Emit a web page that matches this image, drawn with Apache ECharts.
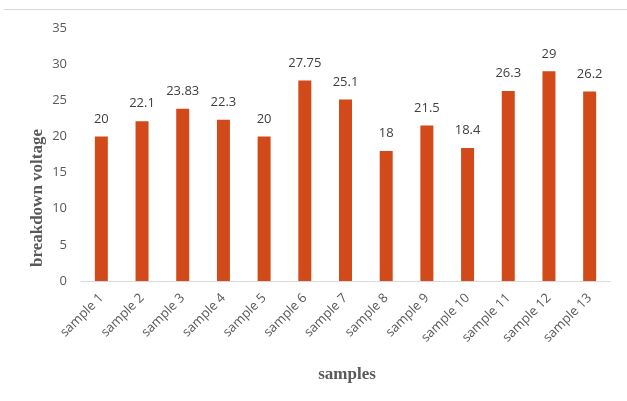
<!DOCTYPE html>
<html>
<head>
<meta charset="utf-8">
<script src="https://cdn.jsdelivr.net/npm/echarts@6/dist/echarts.min.js"></script>
<style>
  html, body { margin: 0; padding: 0; background: #fff; }
  #chart { width: 627px; height: 401px; }
</style>
</head>
<body>
<div id="chart"></div>
<script>
// Breakdown voltage per sample
const categories = ['sample 1', 'sample 2', 'sample 3', 'sample 4', 'sample 5', 'sample 6', 'sample 7',
  'sample 8', 'sample 9', 'sample 10', 'sample 11', 'sample 12', 'sample 13'];
const voltages = [20, 22.1, 23.83, 22.3, 20, 27.75, 25.1, 18, 21.5, 18.4, 26.3, 29, 26.2];
const yTicks = [0, 5, 10, 15, 20, 25, 30, 35];

const chart = echarts.init(document.getElementById('chart'), null, { renderer: 'canvas' });

const labelFont = '"Open Sans", "Liberation Sans", sans-serif';
const titleFont = '"Liberation Serif", "DejaVu Serif", serif';

chart.setOption({
  animation: false,
  grid: { left: 81, right: 17, top: 28, bottom: 120 },
  xAxis: {
    type: 'category',
    data: categories,
    axisLine: { lineStyle: { color: '#d9d9d9', width: 1 } },
    axisTick: { show: false },
    axisLabel: {
      rotate: 45,
      interval: 0,
      color: '#595959',
      fontFamily: labelFont,
      fontSize: 13,
      margin: 15
    }
  },
  yAxis: {
    type: 'value',
    min: yTicks[0],
    max: yTicks[yTicks.length - 1],
    interval: 5,
    splitLine: { show: false },
    axisLine: { show: false },
    axisTick: { show: false },
    axisLabel: {
      color: '#595959',
      fontFamily: labelFont,
      fontSize: 13,
      margin: 14
    }
  },
  series: [{
    type: 'bar',
    data: voltages,
    barWidth: 13,
    itemStyle: { color: '#D24A19' },
    label: {
      show: true,
      position: 'top',
      distance: 11,
      color: '#404040',
      fontFamily: labelFont,
      fontSize: 13
    }
  }],
  graphic: [
    {
      type: 'line',
      shape: { x1: 4, y1: 9.5, x2: 627, y2: 9.5 },
      style: { stroke: '#d9d9d9', lineWidth: 1 }
    },
    {
      type: 'text',
      x: 37.5,
      y: 198,
      rotation: Math.PI / 2,
      style: {
        text: 'breakdown voltage',
        fill: '#595959',
        font: 'bold 17px ' + titleFont,
        textAlign: 'center',
        textVerticalAlign: 'middle'
      }
    },
    {
      type: 'text',
      x: 347,
      y: 375,
      style: {
        text: 'samples',
        fill: '#595959',
        font: 'bold 17px ' + titleFont,
        textAlign: 'center',
        textVerticalAlign: 'middle'
      }
    }
  ]
});
</script>
</body>
</html>
